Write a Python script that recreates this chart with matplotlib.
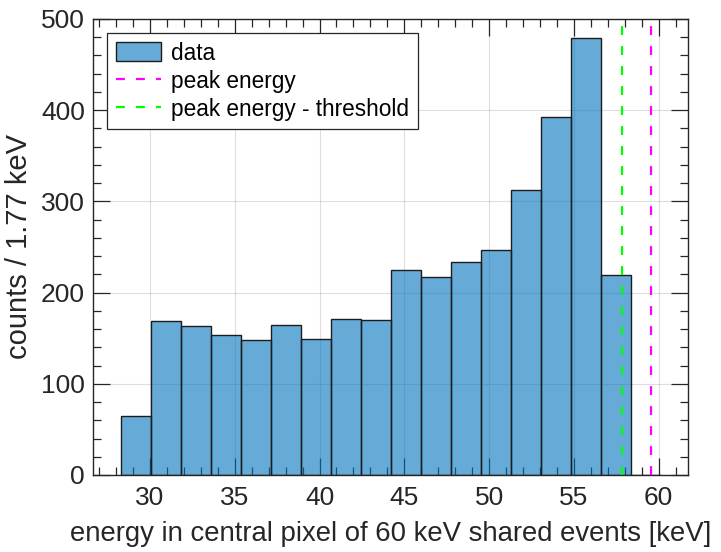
import matplotlib
matplotlib.use("Agg")
import matplotlib.pyplot as plt
from matplotlib.ticker import MultipleLocator

plt.rcParams['font.family'] = ['Liberation Sans', 'DejaVu Sans']

# Data
bin_start = 28.27
bin_width = 1.77
counts = [65, 169, 163, 154, 148, 164, 149, 171, 170, 225, 217, 234, 247, 313, 392, 479, 219, 0]
peak_energy = 59.54
threshold_energy = 57.83
legend_labels = ["data", "peak energy", "peak energy - threshold"]
xlabel = "energy in central pixel of 60 keV shared events [keV]"
ylabel = "counts / 1.77 keV"

edges = [bin_start + i * bin_width for i in range(len(counts) + 1)]
lefts = edges[:-1]

ax_col = '#262626'
fig = plt.figure(figsize=(7.21, 5.52), dpi=100)
ax = fig.add_axes([0.1294, 0.1395, 0.9538 - 0.1294, 0.9656 - 0.1395])

face = (0.0, 0.447, 0.741, 0.6)
h_data = ax.bar(lefts, counts, width=bin_width, align='edge', color=face,
                edgecolor='#1c1c1c', linewidth=1.0, zorder=2)
h_peak = ax.axvline(peak_energy, color='#FF00FF', lw=1.6, linestyle=(0, (4, 5)), zorder=3)
h_thr = ax.axvline(threshold_energy, color='#00FF00', lw=1.6, linestyle=(0, (4, 5)), zorder=3)

ax.set_xlim(26.66, 61.71)
ax.set_ylim(0, 500)
ax.xaxis.set_major_locator(MultipleLocator(5))
ax.xaxis.set_minor_locator(MultipleLocator(1))
ax.yaxis.set_major_locator(MultipleLocator(100))
ax.yaxis.set_minor_locator(MultipleLocator(20))

ax.grid(True, which='major', color=ax_col, alpha=0.15, linewidth=0.8, zorder=0)
ax.set_axisbelow(True)

ax.tick_params(axis='both', which='both', direction='in', top=True, right=True,
               colors=ax_col, labelcolor=ax_col)
ax.tick_params(axis='both', which='major', length=12.5, width=0.9, labelsize=19)
ax.tick_params(axis='both', which='minor', length=6, width=0.9)
ax.tick_params(axis='x', which='major', pad=8)
ax.tick_params(axis='y', which='major', pad=6)
for s in ax.spines.values():
    s.set_color(ax_col)
    s.set_linewidth(1.0)

ax.set_xlabel(xlabel, fontsize=19.8, color=ax_col, labelpad=8)
ax.set_ylabel(ylabel, fontsize=21, color=ax_col, labelpad=6)

leg = ax.legend([h_data, h_peak, h_thr], legend_labels, loc='upper left',
                fontsize=16.3, frameon=True, fancybox=False, edgecolor=ax_col,
                framealpha=1, handlelength=2.0, handleheight=0.9,
                handletextpad=0.45, borderpad=0.38,
                labelspacing=0.22, borderaxespad=0.62)
leg.get_frame().set_linewidth(0.9)

fig.savefig("out.png", dpi=100)
